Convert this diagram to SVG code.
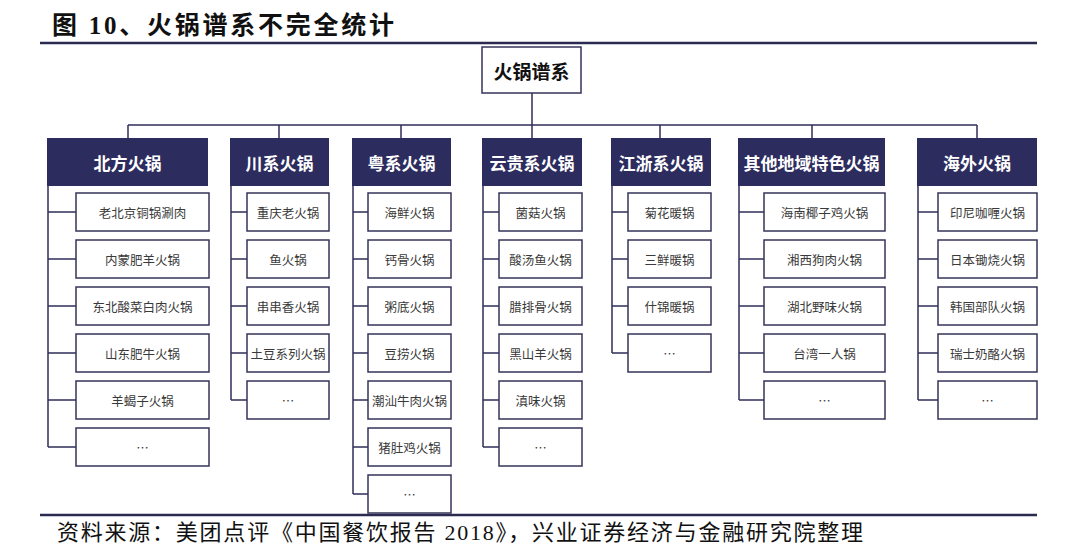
<svg xmlns="http://www.w3.org/2000/svg" width="1065" height="554" viewBox="0 0 1065 554">
<style>
.bg{fill:#ffffff}
.rule{stroke:#2b2a50;stroke-width:2.5;fill:none}
.ln{stroke:#2f2e58;stroke-width:1.5;fill:none}
.hdr{fill:#2d2c5e}
.htx{fill:#ffffff;font-family:"Noto Sans CJK SC",sans-serif;font-weight:700;font-size:17px;text-anchor:middle;dominant-baseline:central}
.box{fill:#ffffff;stroke:#34335a;stroke-width:1.5}
.ctx{fill:#3a3a3a;font-family:"Noto Sans CJK SC",sans-serif;font-size:12.5px;text-anchor:middle;dominant-baseline:central}
.root{fill:#ffffff;stroke:#34335a;stroke-width:1.5}
.rtx{fill:#111111;font-family:"Noto Sans CJK SC",sans-serif;font-weight:700;font-size:19px;text-anchor:middle;dominant-baseline:central}
.title{fill:#111111;font-family:"Liberation Serif","Noto Sans CJK SC",serif;font-weight:700;font-size:25px}
.foot{fill:#111111;font-family:"Liberation Serif","Noto Sans CJK SC",serif;font-size:22px}
</style>
<rect class="bg" x="0" y="0" width="1065" height="554"/>
<text class="title" x="52" y="34" textLength="342" lengthAdjust="spacing">图 10、火锅谱系不完全统计</text>
<line class="rule" x1="40" y1="43" x2="1037" y2="43"/>
<line class="rule" x1="40" y1="515" x2="1037" y2="515"/>
<text class="foot" x="57" y="540" textLength="806" lengthAdjust="spacing">资料来源：美团点评《中国餐饮报告 2018》，兴业证券经济与金融研究院整理</text>

<g id="connectors">
<path class="ln" d="M532 93V138M128 125H977M128 125V138M279 125V138M401 125V138M660 125V138M812 125V138M977 125V138"/>
<path class="ln" d="M48 186V447M48 212H76M48 259H76M48 306H76M48 353H76M48 400H76M48 447H76"/>
<path class="ln" d="M231 186V400M231 212H247M231 259H247M231 306H247M231 353H247M231 400H247"/>
<path class="ln" d="M353 186V494M353 212H368M353 259H368M353 306H368M353 353H368M353 400H368M353 447H368M353 494H368"/>
<path class="ln" d="M483 186V447M483 212H499M483 259H499M483 306H499M483 353H499M483 400H499M483 447H499"/>
<path class="ln" d="M612 186V353M612 212H628M612 259H628M612 306H628M612 353H628"/>
<path class="ln" d="M739 186V400M739 212H764M739 259H764M739 306H764M739 353H764M739 400H764"/>
<path class="ln" d="M918 186V400M918 212H938M918 259H938M918 306H938M918 353H938M918 400H938"/>
</g>

<g id="root">
<rect class="root" x="482" y="47" width="99" height="46"/>
<text class="rtx" x="531.5" y="70">火锅谱系</text>
</g>

<g id="col-beifang">
<rect class="hdr" x="47" y="138" width="161" height="48"/>
<text class="htx" x="127.5" y="162">北方火锅</text>
<rect class="box" x="76" y="193" width="133" height="38"/><text class="ctx" x="142.5" y="212">老北京铜锅涮肉</text>
<rect class="box" x="76" y="240" width="133" height="38"/><text class="ctx" x="142.5" y="259">内蒙肥羊火锅</text>
<rect class="box" x="76" y="287" width="133" height="38"/><text class="ctx" x="142.5" y="306">东北酸菜白肉火锅</text>
<rect class="box" x="76" y="334" width="133" height="38"/><text class="ctx" x="142.5" y="353">山东肥牛火锅</text>
<rect class="box" x="76" y="381" width="133" height="38"/><text class="ctx" x="142.5" y="400">羊蝎子火锅</text>
<rect class="box" x="76" y="428" width="133" height="38"/><text class="ctx" x="142.5" y="447">…</text>
</g>

<g id="col-chuan">
<rect class="hdr" x="230" y="138" width="99" height="48"/>
<text class="htx" x="279.5" y="162">川系火锅</text>
<rect class="box" x="247" y="193" width="82" height="38"/><text class="ctx" x="288" y="212">重庆老火锅</text>
<rect class="box" x="247" y="240" width="82" height="38"/><text class="ctx" x="288" y="259">鱼火锅</text>
<rect class="box" x="247" y="287" width="82" height="38"/><text class="ctx" x="288" y="306">串串香火锅</text>
<rect class="box" x="247" y="334" width="82" height="38"/><text class="ctx" x="288" y="353">土豆系列火锅</text>
<rect class="box" x="247" y="381" width="82" height="38"/><text class="ctx" x="288" y="400">…</text>
</g>

<g id="col-yue">
<rect class="hdr" x="352" y="138" width="99" height="48"/>
<text class="htx" x="401.5" y="162">粤系火锅</text>
<rect class="box" x="368" y="193" width="83" height="38"/><text class="ctx" x="409.5" y="212">海鲜火锅</text>
<rect class="box" x="368" y="240" width="83" height="38"/><text class="ctx" x="409.5" y="259">钙骨火锅</text>
<rect class="box" x="368" y="287" width="83" height="38"/><text class="ctx" x="409.5" y="306">粥底火锅</text>
<rect class="box" x="368" y="334" width="83" height="38"/><text class="ctx" x="409.5" y="353">豆捞火锅</text>
<rect class="box" x="368" y="381" width="83" height="38"/><text class="ctx" x="409.5" y="400">潮汕牛肉火锅</text>
<rect class="box" x="368" y="428" width="83" height="38"/><text class="ctx" x="409.5" y="447">猪肚鸡火锅</text>
<rect class="box" x="368" y="475" width="83" height="38"/><text class="ctx" x="409.5" y="494">…</text>
</g>

<g id="col-yungui">
<rect class="hdr" x="482" y="138" width="100" height="48"/>
<text class="htx" x="532" y="162">云贵系火锅</text>
<rect class="box" x="499" y="193" width="83" height="38"/><text class="ctx" x="540.5" y="212">菌菇火锅</text>
<rect class="box" x="499" y="240" width="83" height="38"/><text class="ctx" x="540.5" y="259">酸汤鱼火锅</text>
<rect class="box" x="499" y="287" width="83" height="38"/><text class="ctx" x="540.5" y="306">腊排骨火锅</text>
<rect class="box" x="499" y="334" width="83" height="38"/><text class="ctx" x="540.5" y="353">黑山羊火锅</text>
<rect class="box" x="499" y="381" width="83" height="38"/><text class="ctx" x="540.5" y="400">滇味火锅</text>
<rect class="box" x="499" y="428" width="83" height="38"/><text class="ctx" x="540.5" y="447">…</text>
</g>

<g id="col-jiangzhe">
<rect class="hdr" x="611" y="138" width="100" height="48"/>
<text class="htx" x="661" y="162">江浙系火锅</text>
<rect class="box" x="628" y="193" width="83" height="38"/><text class="ctx" x="669.5" y="212">菊花暖锅</text>
<rect class="box" x="628" y="240" width="83" height="38"/><text class="ctx" x="669.5" y="259">三鲜暖锅</text>
<rect class="box" x="628" y="287" width="83" height="38"/><text class="ctx" x="669.5" y="306">什锦暖锅</text>
<rect class="box" x="628" y="334" width="83" height="38"/><text class="ctx" x="669.5" y="353">…</text>
</g>

<g id="col-other">
<rect class="hdr" x="738" y="138" width="147" height="48"/>
<text class="htx" x="811.5" y="162">其他地域特色火锅</text>
<rect class="box" x="764" y="193" width="121" height="38"/><text class="ctx" x="824.5" y="212">海南椰子鸡火锅</text>
<rect class="box" x="764" y="240" width="121" height="38"/><text class="ctx" x="824.5" y="259">湘西狗肉火锅</text>
<rect class="box" x="764" y="287" width="121" height="38"/><text class="ctx" x="824.5" y="306">湖北野味火锅</text>
<rect class="box" x="764" y="334" width="121" height="38"/><text class="ctx" x="824.5" y="353">台湾一人锅</text>
<rect class="box" x="764" y="381" width="121" height="38"/><text class="ctx" x="824.5" y="400">…</text>
</g>

<g id="col-overseas">
<rect class="hdr" x="917" y="138" width="120" height="48"/>
<text class="htx" x="977" y="162">海外火锅</text>
<rect class="box" x="938" y="193" width="99" height="38"/><text class="ctx" x="987.5" y="212">印尼咖喱火锅</text>
<rect class="box" x="938" y="240" width="99" height="38"/><text class="ctx" x="987.5" y="259">日本锄烧火锅</text>
<rect class="box" x="938" y="287" width="99" height="38"/><text class="ctx" x="987.5" y="306">韩国部队火锅</text>
<rect class="box" x="938" y="334" width="99" height="38"/><text class="ctx" x="987.5" y="353">瑞士奶酪火锅</text>
<rect class="box" x="938" y="381" width="99" height="38"/><text class="ctx" x="987.5" y="400">…</text>
</g>
</svg>
